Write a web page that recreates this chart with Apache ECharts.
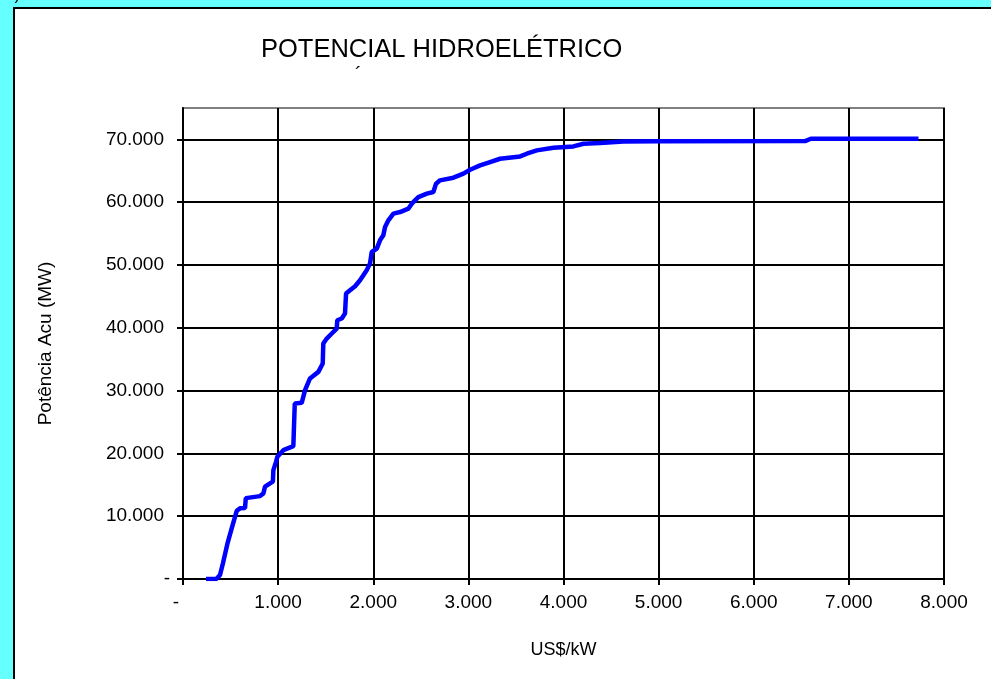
<!DOCTYPE html>
<html>
<head>
<meta charset="utf-8">
<style>
html,body{margin:0;padding:0;background:#66FFFF;}
#c{width:991px;height:679px;}
</style>
<script src="https://cdn.jsdelivr.net/npm/echarts@6/dist/echarts.min.js"></script>
</head>
<body>
<div id="c"></div>
<script>
// US$/kW (cost) and cumulative power (MW)
const costs = [242, 350, 389, 420, 470, 520, 565, 600, 652, 660, 810, 845, 862, 915, 945, 950, 978, 992, 1055, 1160, 1170, 1175, 1248, 1283, 1335, 1423, 1469, 1475, 1511, 1564, 1616, 1622, 1669, 1703, 1714, 1756, 1809, 1861, 1896, 1931, 1966, 1984, 2037, 2071, 2106, 2124, 2159, 2212, 2282, 2369, 2405, 2474, 2563, 2632, 2660, 2702, 2843, 2948, 3018, 3123, 3228, 3333, 3544, 3614, 3719, 3894, 4104, 4210, 4385, 4630, 5000, 6540, 6600, 7732];
const powers = [0, 0, 640, 2500, 5800, 8500, 10860, 11250, 11300, 12880, 13200, 13630, 14690, 15220, 15500, 17340, 18660, 19460, 20520, 21160, 21300, 27950, 28050, 30070, 31930, 32980, 34310, 37500, 38290, 39090, 39880, 41200, 41480, 42270, 45450, 45970, 46610, 47570, 48360, 49160, 50220, 52070, 52600, 53930, 54730, 56050, 57110, 58180, 58430, 58970, 59770, 60820, 61360, 61620, 62950, 63480, 63900, 64540, 65170, 65860, 66390, 66920, 67290, 67720, 68250, 68680, 68880, 69310, 69410, 69650, 69700, 69730, 70100, 70100];
const yTicks = [0, 10000, 20000, 30000, 40000, 50000, 60000, 70000];
const xTicks = [0, 1000, 2000, 3000, 4000, 5000, 6000, 7000, 8000];
const titleText = 'POTENCIAL HIDROELÉTRICO';
const xName = 'US$/kW';
const yName = 'Potência Acu (MW)';

function fmt(v) {
  if (v === 0) return '-';
  return String(Math.round(v)).replace(/\B(?=(\d{3})+(?!\d))/g, '.');
}

const chart = echarts.init(document.getElementById('c'), null, {renderer: 'canvas'});
const font = 'Liberation Sans, Arial, sans-serif';
chart.setOption({
  backgroundColor: '#66FFFF',
  animation: false,
  textStyle: {fontFamily: font},
  title: {
    text: titleText,
    left: 256, top: 32,
    textStyle: {fontSize: 25.5, fontWeight: 'normal', color: '#000', fontFamily: font}
  },
  graphic: [
    {type: 'rect', z: -10, shape: {x: 14, y: 8, width: 1000, height: 700},
     style: {fill: '#fff', stroke: '#000', lineWidth: 2}},
    {type: 'text', z: 10, left: 355, top: 65, style: {text: '´', fontSize: 20, fill: '#000', fontFamily: font}},
    {type: 'text', z: 10, left: 6, top: -13, style: {text: 'c)', fontSize: 17, fill: '#000', fontFamily: font}}
  ],
  grid: {left: 183, top: 108, width: 761, height: 471, show: true, borderColor: '#808080', borderWidth: 2, backgroundColor: 'transparent'},
  xAxis: {
    type: 'value', min: 0, max: 8000, interval: 1000,
    name: xName, nameLocation: 'middle', nameGap: 62,
    nameTextStyle: {fontSize: 18, color: '#000', fontFamily: font},
    axisLine: {show: true, onZero: false, lineStyle: {color: '#000', width: 2}},
    axisTick: {show: true, inside: false, length: 6, customValues: xTicks, lineStyle: {color: '#000', width: 2}},
    axisLabel: {color: '#000', fontSize: 19, margin: 14, fontFamily: font, customValues: xTicks,
      formatter: v => (v === 0 ? '{z|-}' : fmt(v)),
      rich: {z: {fontSize: 19, fontFamily: font, color: '#000', padding: [0, 14, 0, 0]}}},
    splitLine: {show: true, lineStyle: {color: '#000', width: 2}}
  },
  yAxis: {
    type: 'value', min: 0, max: 75000, interval: 10000,
    name: yName, nameLocation: 'middle', nameGap: 128, nameRotate: 90,
    nameTextStyle: {fontSize: 19, color: '#000', fontFamily: font},
    axisLine: {show: true, onZero: false, lineStyle: {color: '#000', width: 2}},
    axisTick: {show: true, inside: false, length: 6, customValues: yTicks, lineStyle: {color: '#000', width: 2}},
    axisLabel: {color: '#000', fontSize: 19, margin: 13, fontFamily: font, customValues: yTicks,
      formatter: v => (v === 0 ? '{z|-}' : '{n|' + fmt(v) + '}'),
      rich: {
        n: {fontSize: 19, fontFamily: font, color: '#000', padding: [0, 6, 0, 0]},
        z: {fontSize: 19, fontFamily: font, color: '#000', padding: [0, 0, 0, 0]}
      }},
    splitLine: {show: true, lineStyle: {color: '#000', width: 2}}
  },
  series: [{
    type: 'line',
    data: costs.map((c, i) => [c, powers[i]]),
    showSymbol: false,
    symbol: 'none',
    lineStyle: {color: '#0000FF', width: 4.5},
    itemStyle: {color: '#0000FF'},
    z: 5
  }]
});
</script>
</body>
</html>
